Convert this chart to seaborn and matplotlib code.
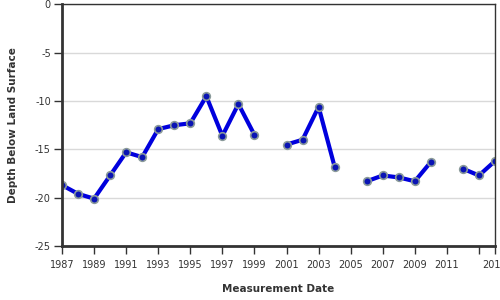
import numpy as np
import pandas as pd
import matplotlib
matplotlib.use("Agg")
import matplotlib.pyplot as plt
import seaborn as sns

years = [1987, 1988, 1989, 1990, 1991, 1992, 1993, 1994, 1995, 1996, 1997, 1998, 1999,
         2001, 2002, 2003, 2004,
         2006, 2007, 2008, 2009, 2010,
         2012, 2013, 2014]
depths = [-18.7, -19.6, -20.1, -17.7, -15.3, -15.8, -12.9, -12.5, -12.3, -9.5, -13.6, -10.3, -13.5,
          -14.5, -14.0, -10.6, -16.8,
          -18.3, -17.7, -17.9, -18.3, -16.3,
          -17.0, -17.7, -16.2]
segments = [0]*13 + [1]*4 + [2]*5 + [3]*3
xticks = [1987, 1989, 1991, 1993, 1995, 1997, 1999, 2001, 2003, 2005, 2007, 2009, 2011, 2013, 2014]
xticklabels = ["1987", "1989", "1991", "1993", "1995", "1997", "1999", "2001", "2003", "2005",
               "2007", "2009", "2011", "", "2014"]
yticks = [0, -5, -10, -15, -20, -25]

df = pd.DataFrame({"year": years, "depth": depths, "seg": segments})

sns.set_style("white")
plt.rcParams["font.family"] = ["DejaVu Sans"]

fig = plt.figure(figsize=(5, 3), dpi=100)
ax = fig.add_axes([0.124, 0.18, 0.866, 0.805])

for y in yticks:
    ax.axhline(y, color="#d9d9d9", lw=1, zorder=0)

sns.lineplot(data=df, x="year", y="depth", units="seg", estimator=None,
             color="#0000dd", lw=3, marker="o", markersize=5.5,
             markerfacecolor="#0a14b4", markeredgecolor="#8a9a9a", markeredgewidth=1.2,
             ax=ax, legend=False)

ax.set_xlim(1987, 2014)
ax.set_ylim(-25, 0)
ax.set_xticks(xticks)
ax.set_xticklabels(xticklabels)
ax.set_yticks(yticks)
ax.set_yticklabels([str(v) for v in yticks])
ax.tick_params(axis="both", labelsize=7, colors="#333333", length=6, width=1,
               direction="out", bottom=True, left=True)
ax.tick_params(axis="x", pad=4)
ax.tick_params(axis="y", pad=2)
ax.set_xlabel("Measurement Date", fontsize=7.5, fontweight="bold", color="#333333", labelpad=10)
ax.set_ylabel("Depth Below Land Surface", fontsize=7.5, fontweight="bold", color="#333333", labelpad=12)

for side in ["left", "bottom"]:
    ax.spines[side].set_linewidth(2)
    ax.spines[side].set_color("#333333")
for side in ["top", "right"]:
    ax.spines[side].set_linewidth(1)
    ax.spines[side].set_color("#333333")
    ax.spines[side].set_visible(True)

fig.savefig("out.png", dpi=100)
